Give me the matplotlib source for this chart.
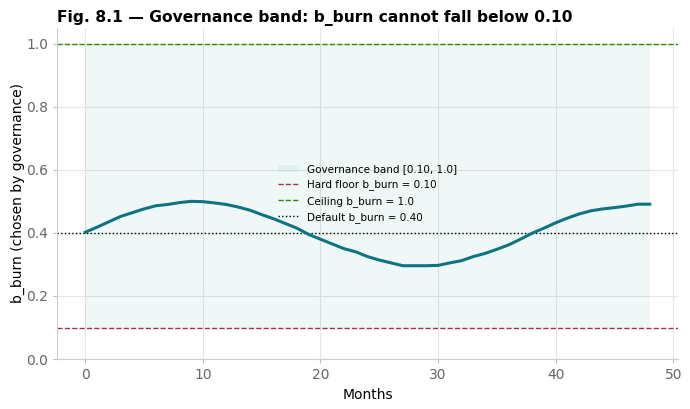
import matplotlib
matplotlib.use("Agg")
import matplotlib.pyplot as plt
import numpy as np

months = list(range(49))
b_burn = [0.402, 0.418, 0.435, 0.452, 0.464, 0.476, 0.486, 0.490, 0.496, 0.500,
          0.499, 0.495, 0.490, 0.482, 0.472, 0.458, 0.445, 0.430, 0.415, 0.395,
          0.380, 0.365, 0.350, 0.340, 0.325, 0.314, 0.305, 0.296, 0.296, 0.296,
          0.297, 0.305, 0.312, 0.325, 0.335, 0.348, 0.362, 0.380, 0.399, 0.415,
          0.432, 0.447, 0.460, 0.470, 0.476, 0.480, 0.485, 0.491, 0.491]
floor = 0.10
ceiling = 1.0
default = 0.40

fig = plt.figure(figsize=(6.9, 4.09), dpi=100)
ax = fig.add_axes([0.0826, 0.122, 0.90, 0.81])

ax.fill_between(months, floor, ceiling, color="#2a9d8f", alpha=0.07, linewidth=0,
                label="Governance band [0.10, 1.0]")
ax.axhline(floor, color="#a8304e", linestyle="--", linewidth=1.0, label="Hard floor b_burn = 0.10")
ax.axhline(ceiling, color="#2a8a00", linestyle="--", linewidth=1.0, label="Ceiling b_burn = 1.0")
ax.axhline(default, color="black", linestyle=":", linewidth=1.0, label="Default b_burn = 0.40")
ax.plot(months, b_burn, color="#0e7480", linewidth=2.2)

ax.set_ylim(0, 1.05)
ax.set_xlim(-2.4, 50.4)
ax.grid(True, color="#e6e6e6", linewidth=0.8)
ax.set_axisbelow(True)
for s in ["top", "right"]:
    ax.spines[s].set_visible(False)
for s in ["left", "bottom"]:
    ax.spines[s].set_color("#cccccc")
ax.tick_params(colors="#666666", labelsize=10, length=3)
ax.tick_params(axis="both", color="#bbbbbb")
ax.set_xlabel("Months", fontsize=10)
ax.set_ylabel("b_burn (chosen by governance)", fontsize=10, labelpad=1)
fig.text(0.083, 0.955, "Fig. 8.1 — Governance band: b_burn cannot fall below 0.10",
         fontsize=11.2, fontweight="bold", ha="left", va="center")
ax.legend(loc="center", frameon=False, fontsize=7.5)

fig.savefig("out.png", dpi=100)
